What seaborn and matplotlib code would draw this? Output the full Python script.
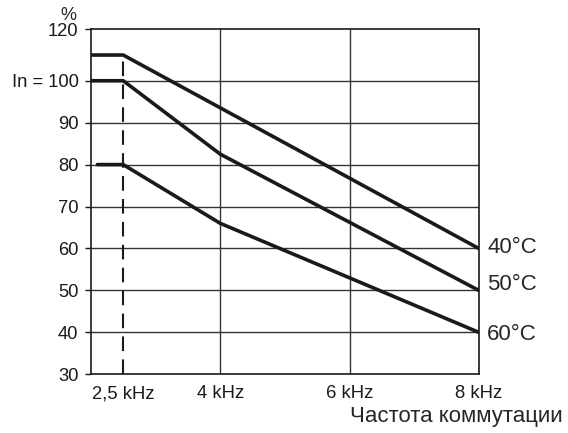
import numpy as np
import pandas as pd
import matplotlib
matplotlib.use('Agg')
import matplotlib.pyplot as plt
import seaborn as sns

# derating curves, current in % of In versus switching frequency (kHz)
temps = ['40°C', '50°C', '60°C']
freq_40 = [2.0, 2.5, 8.0]
curr_40 = [110, 110, 60]
freq_50 = [2.0, 2.5, 4.0, 8.0]
curr_50 = [100, 100, 82.5, 50]
freq_60 = [2.1, 2.5, 4.0, 8.0]
curr_60 = [80, 80, 66, 40]

yticks = [30, 40, 50, 60, 70, 80, 90, 100, 120]
ytick_labels = ['30', '40', '50', '60', '70', '80', '90', 'In = 100', '120']
xticks = [2.5, 4, 6, 8]
xtick_labels = ['2,5 kHz', '4 kHz', '6 kHz', '8 kHz']
xminor = [2.0, 3.0, 3.5, 4.5, 5.0, 5.5, 6.5, 7.0, 7.5]
dashed_freq = 2.5

df = pd.concat([
    pd.DataFrame({'f': freq_40, 'I': curr_40, 'T': temps[0]}),
    pd.DataFrame({'f': freq_50, 'I': curr_50, 'T': temps[1]}),
    pd.DataFrame({'f': freq_60, 'I': curr_60, 'T': temps[2]}),
])

sns.set_style('white')
plt.rcParams['font.family'] = ['Liberation Sans', 'DejaVu Sans']

# the drawing squeezes the band above 100 %
K = 0.613
def fwd(y):
    y = np.asarray(y, dtype=float)
    return np.where(y <= 100, y, 100 + (y - 100) * K)
def inv(y):
    y = np.asarray(y, dtype=float)
    return np.where(y <= 100, y, 100 + (y - 100) / K)

fig = plt.figure(figsize=(5.68, 4.33), dpi=100)
ax = fig.add_axes([0.160, 0.1356, 0.683, 0.7967])
ax.set_yscale('function', functions=(fwd, inv))

# grid
for v in [4, 6]:
    ax.axvline(v, color='#333333', lw=1, zorder=1)
for v in yticks[1:-1]:
    ax.axhline(v, color='#333333', lw=1, zorder=1)

top_at_dash = np.interp(dashed_freq, freq_40, curr_40)
dl, = ax.plot([dashed_freq, dashed_freq], [30, top_at_dash], color='#1a1a1a', lw=1.5, zorder=2)
dl.set_dashes((7, 4))

sns.lineplot(data=df, x='f', y='I', hue='T', palette=['#1a1a1a'] * 3,
             estimator=None, sort=False, legend=False, lw=2.6, ax=ax, zorder=3)

ends = [curr_40[-1], curr_50[-1], curr_60[-1]]
offs = [1, 4, -1.5]
for t, e, o in zip(temps, ends, offs):
    ax.annotate(t, (8, e), xytext=(6, o), textcoords='offset points',
                fontsize=16, va='center', ha='left', annotation_clip=False)

ax.set_xlim(2.0, 8.0)
ax.set_ylim(30, 120)
ax.set_yticks(yticks)
ax.set_yticklabels(ytick_labels)
ax.set_xticks(xticks)
ax.set_xticklabels(xtick_labels)
ax.set_xticks(xminor, minor=True)
ax.yaxis.set_minor_locator(matplotlib.ticker.NullLocator())
ax.tick_params(axis='x', which='both', direction='inout', length=6, width=1,
               color='#1a1a1a', labelsize=13.3, pad=5)
ax.tick_params(axis='y', which='major', direction='out', length=4, width=1,
               color='#1a1a1a', labelsize=13.2, pad=5, left=True)
ax.tick_params(colors='#1a1a1a', which='both')
for s in ax.spines.values():
    s.set_visible(True)
    s.set_color('#1a1a1a')
    s.set_linewidth(1.2)

ax.set_xlabel('Частота коммутации', fontsize=16, loc='right')
ax.xaxis.set_label_coords(1.2165, -0.093)
ax.set_ylabel('')
ax.text(-0.059, 1.041, '%', transform=ax.transAxes, fontsize=13,
        ha='center', va='center')

fig.savefig('out.png', dpi=100)
